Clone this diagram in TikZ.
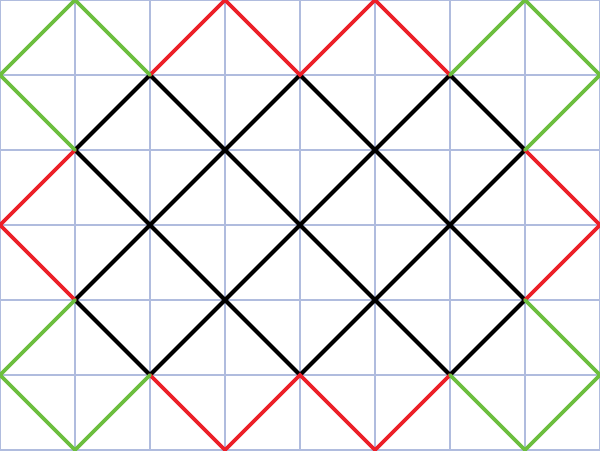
\documentclass[tikz,border=0pt]{standalone}
\usetikzlibrary{calc}
\definecolor{gridblue}{RGB}{176,188,222}
\definecolor{edgegreen}{RGB}{108,190,62}
\definecolor{edgered}{RGB}{236,32,40}
\tikzset{
	gridline/.style={draw=gridblue, line width=0.7pt},
	inner/.style={draw=black, line width=1.6pt, line cap=round},
	rim/.style={draw=edgered, line width=1.4pt, line cap=round},
	corner/.style={draw=edgegreen, line width=1.4pt, line cap=round}
}
\begin{document}
\begin{tikzpicture}

	\useasboundingbox (0,0) rectangle (8,6);
	\draw [gridline] (0,0) grid (8,6);

	% black lattice
	\foreach \a/\b in {{(2,5)/(6,1)}, {(1,4)/(4,1)}, {(4,5)/(7,2)}, {(6,5)/(7,4)}, {(1,2)/(2,1)},
		{(1,4)/(2,5)}, {(1,2)/(4,5)}, {(2,1)/(6,5)}, {(4,1)/(7,4)}, {(6,1)/(7,2)}}
		\draw [inner] \a -- \b;

	% red rim
	\draw [rim] (1,4) -- (0,3) -- (1,2);
	\draw [rim] (2,5) -- (3,6) -- (4,5) -- (5,6) -- (6,5);
	\draw [rim] (7,4) -- (8,3) -- (7,2);
	\draw [rim] (2,1) -- (3,0) -- (4,1) -- (5,0) -- (6,1);

	% green corners
	\draw [corner] (1,4) -- (0,5) -- (1,6) -- (2,5);
	\draw [corner] (6,5) -- (7,6) -- (8,5) -- (7,4);
	\draw [corner] (1,2) -- (0,1) -- (1,0) -- (2,1);
	\draw [corner] (6,1) -- (7,0) -- (8,1) -- (7,2);

\end{tikzpicture}
\end{document}
